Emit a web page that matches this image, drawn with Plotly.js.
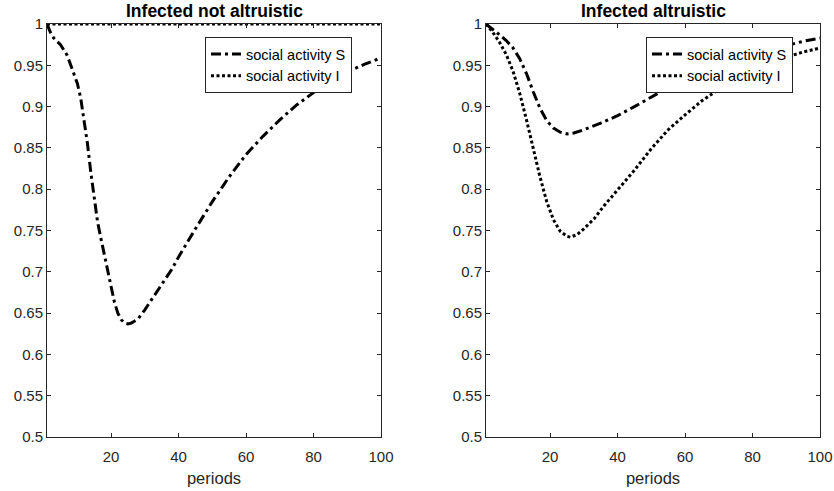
<!DOCTYPE html>
<html>
<head>
<meta charset="utf-8">
<script src="https://cdn.plot.ly/plotly-3.0.1.min.js"></script>
<style>html,body{margin:0;padding:0;background:#fff;}#chart{width:834px;height:491px;}</style>
</head>
<body>
<div id="chart"></div>
<script>
// ---- Data ----
const leftX  = [1,2,3,5,7,9,10,11,12,13,14,15,16,17,18,19,20,21,22,23,24,25,26,28,30,32,35,38,40,42,45,50,55,60,65,70,75,80,85,90,95,100];
const leftS  = [1.0,0.990,0.983,0.975,0.962,0.940,0.928,0.910,0.885,0.855,0.820,0.787,0.760,0.740,0.720,0.700,0.680,0.663,0.650,0.642,0.638,0.637,0.638,0.643,0.654,0.666,0.684,0.703,0.718,0.731,0.752,0.785,0.815,0.842,0.864,0.884,0.902,0.917,0.931,0.942,0.951,0.959];
const leftIX = [1,25,50,75,100];
const leftI  = [1,1,1,1,1];

const rightSX = [1,3,5,7,9,11,13,15,17,19,21,23,25,27,30,35,40,45,50,55,60,65,70,75,80,85,90,95,100];
const rightS  = [1.0,0.994,0.987,0.980,0.971,0.958,0.940,0.918,0.898,0.883,0.874,0.869,0.867,0.868,0.872,0.880,0.889,0.900,0.912,0.923,0.933,0.942,0.950,0.957,0.963,0.969,0.974,0.979,0.983];
const rightIX = [1,3,5,7,9,11,13,15,17,19,21,23,25,26,28,30,33,36,40,45,50,55,60,65,70,75,80,85,90,95,100];
const rightI  = [1.0,0.990,0.978,0.963,0.943,0.916,0.884,0.848,0.815,0.785,0.763,0.749,0.743,0.742,0.745,0.752,0.764,0.780,0.799,0.823,0.849,0.872,0.890,0.907,0.921,0.933,0.943,0.952,0.960,0.966,0.971];

const seriesNames = ['social activity S', 'social activity I'];
const panelTitles = ['Infected not altruistic', 'Infected altruistic'];
const xLabel = 'periods';
const xTicks = [20,40,60,80,100];
const yTicks = [0.5,0.55,0.6,0.65,0.7,0.75,0.8,0.85,0.9,0.95,1];
const yTickText = ['0.5','0.55','0.6','0.65','0.7','0.75','0.8','0.85','0.9','0.95','1'];

// ---- Styling ----
const W = 834, H = 491;
const FONT = 'Liberation Sans, Arial, Helvetica, sans-serif';
const INK = '#262626';
const dashDot = '10px,4px,3px,4px';
const dotted = '3px,2.5px';

const traces = [
  {x:leftX, y:leftS, name:seriesNames[0], xaxis:'x', yaxis:'y', legend:'legend', mode:'lines',
   line:{color:'#000', width:3, dash:dashDot}, cliponaxis:false},
  {x:leftIX, y:leftI, name:seriesNames[1], xaxis:'x', yaxis:'y', legend:'legend', mode:'lines',
   line:{color:'#000', width:3, dash:dotted}, cliponaxis:false},
  {x:rightSX, y:rightS, name:seriesNames[0], xaxis:'x2', yaxis:'y2', legend:'legend2', mode:'lines',
   line:{color:'#000', width:3, dash:dashDot}, cliponaxis:false},
  {x:rightIX, y:rightI, name:seriesNames[1], xaxis:'x2', yaxis:'y2', legend:'legend2', mode:'lines',
   line:{color:'#000', width:3, dash:dotted}, cliponaxis:false}
];

const L1 = 47, R1 = 381, L2 = 486, R2 = 820, TOP = 24, BOT = 437;

function xax(domain, anchor){
  return {domain:domain, anchor:anchor, range:[1,100], tickvals:xTicks, ticks:'inside', ticklen:4,
    tickcolor:INK, linecolor:INK, linewidth:1, showline:true, mirror:'allticks', showgrid:false, zeroline:false,
    tickfont:{family:FONT, size:15, color:INK}, ticklabelstandoff:6,
    title:{text:xLabel, font:{family:FONT, size:16.5, color:INK}, standoff:8}, automargin:false};
}
function yax(anchor){
  return {domain:[1-BOT/H, 1-TOP/H], anchor:anchor, range:[0.5,1], tickvals:yTicks, ticktext:yTickText,
    ticks:'inside', ticklen:4, tickcolor:INK, linecolor:INK, linewidth:1, showline:true, mirror:'allticks',
    showgrid:false, zeroline:false, tickfont:{family:FONT, size:15, color:INK}, automargin:false};
}
const legendBase = {bgcolor:'#fff', bordercolor:INK, borderwidth:1, font:{family:FONT, size:14.5, color:'#000'},
  xanchor:'left', yanchor:'top', yref:'paper', xref:'paper', tracegroupgap:0, itemwidth:30};

const layout = {
  width:W, height:H, margin:{l:0, r:0, t:0, b:0}, paper_bgcolor:'#fff', plot_bgcolor:'#fff',
  font:{family:FONT, color:INK},
  xaxis: xax([L1/W, R1/W], 'y'),
  yaxis: yax('x'),
  xaxis2: xax([L2/W, R2/W], 'y2'),
  yaxis2: yax('x2'),
  showlegend:true,
  legend: Object.assign({}, legendBase, {x:205/W, y:1-37/H}),
  legend2: Object.assign({}, legendBase, {x:646/W, y:1-37/H}),
  annotations:[
    {text:'<b>'+panelTitles[0]+'</b>', xref:'paper', yref:'paper', x:(L1+R1)/2/W, y:1-11/H,
     xanchor:'center', yanchor:'middle', showarrow:false, font:{family:FONT, size:17.5, color:'#000'}},
    {text:'<b>'+panelTitles[1]+'</b>', xref:'paper', yref:'paper', x:(L2+R2)/2/W, y:1-11/H,
     xanchor:'center', yanchor:'middle', showarrow:false, font:{family:FONT, size:17.5, color:'#000'}}
  ]
};

Plotly.newPlot('chart', traces, layout, {staticPlot:true, displayModeBar:false});
</script>
</body>
</html>
